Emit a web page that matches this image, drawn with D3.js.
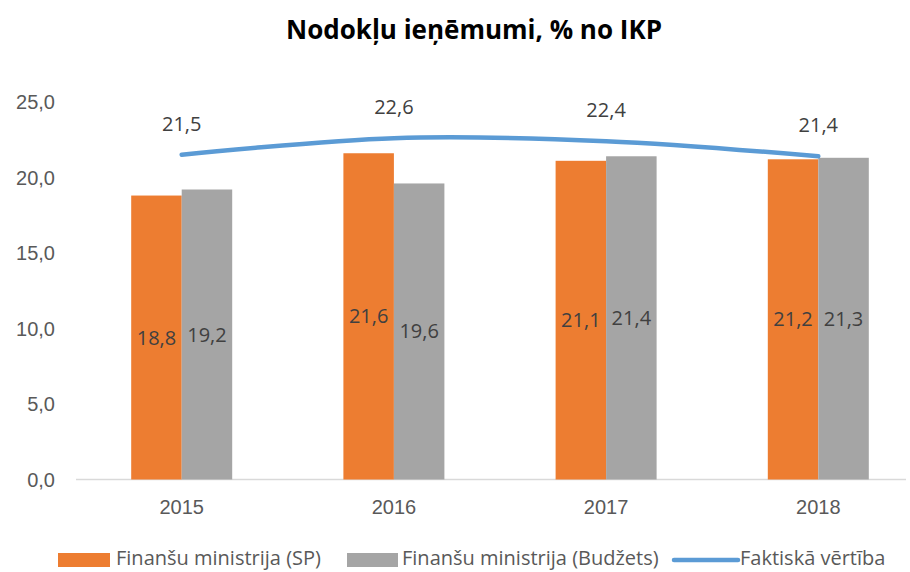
<!DOCTYPE html>
<html>
<head>
<meta charset="UTF-8">
<title>Nodokļu ieņēmumi</title>
<style>
  body { margin: 0; background: #fff; }
  svg { display: block; font-family: "Open Sans", "Noto Sans", sans-serif; }
  .tick text { fill: #595959; font-size: 20px; }
</style>
</head>
<body>
<div id="chart"></div>
<script src="https://d3js.org/d3.v7.min.js"></script>
<script>
const years = ["2015", "2016", "2017", "2018"];
const fmSP = [18.8, 21.6, 21.1, 21.2];
const fmBudget = [19.2, 19.6, 21.4, 21.3];
const actual = [21.5, 22.6, 22.4, 21.4];
const yTicks = [0, 5, 10, 15, 20, 25];
const seriesNames = ["Finanšu ministrija (SP)", "Finanšu ministrija (Budžets)", "Faktiskā vērtība"];

const width = 910, height = 572;
const fmt = d => d.toFixed(1).replace(".", ",");

const svg = d3.select("#chart").append("svg")
  .attr("width", width).attr("height", height);

svg.append("text")
  .attr("x", 474).attr("y", 39)
  .attr("text-anchor", "middle")
  .attr("font-size", 26).attr("font-weight", "bold")
  .attr("fill", "#000")
  .text("Nodokļu ieņēmumi, % no IKP");

const x = d3.scaleBand().domain(years).range([75.6, 924.4]);
const y = d3.scaleLinear().domain([0, 25]).range([479.5, 101.9]);
const barW = 50.5;

// y axis labels only
const yAxis = svg.append("g")
  .attr("transform", "translate(55,0)")
  .call(d3.axisLeft(y).tickValues(yTicks).tickFormat(fmt).tickSize(0).tickPadding(0));
yAxis.select(".domain").remove();
yAxis.selectAll("text").attr("dy", "0.35em");

// x axis
const xAxis = svg.append("g")
  .attr("transform", `translate(0,${y(0)})`)
  .call(d3.axisBottom(x).tickSize(0).tickPadding(20));
xAxis.select(".domain").remove();
svg.append("line")
  .attr("x1", 76).attr("x2", 906)
  .attr("y1", y(0)).attr("y2", y(0))
  .attr("stroke", "#d9d9d9").attr("stroke-width", 1.5);

const cx = d => x(d) + x.bandwidth() / 2;

// bars
svg.append("g").selectAll("rect").data(years).join("rect")
  .attr("x", d => cx(d) - barW).attr("width", barW)
  .attr("y", (d, i) => y(fmSP[i])).attr("height", (d, i) => y(0) - y(fmSP[i]))
  .attr("fill", "#ED7D31");
svg.append("g").selectAll("rect").data(years).join("rect")
  .attr("x", d => cx(d)).attr("width", barW)
  .attr("y", (d, i) => y(fmBudget[i])).attr("height", (d, i) => y(0) - y(fmBudget[i]))
  .attr("fill", "#A5A5A5");

// bar labels
const lab = svg.append("g").attr("font-size", 20).attr("fill", "#404040").attr("text-anchor", "middle");
lab.selectAll(".l1").data(years).join("text")
  .attr("x", d => cx(d) - barW / 2)
  .attr("y", (d, i) => (y(fmSP[i]) + y(0)) / 2).attr("dy", "0.35em")
  .text((d, i) => fmt(fmSP[i]));
lab.selectAll(".l2").data(years).join("text")
  .attr("x", d => cx(d) + barW / 2)
  .attr("y", (d, i) => (y(fmBudget[i]) + y(0)) / 2).attr("dy", "0.35em")
  .text((d, i) => fmt(fmBudget[i]));

// line
const line = d3.line().x(d => cx(d[0])).y(d => y(d[1])).curve(d3.curveCatmullRom.alpha(0.5));
svg.append("path")
  .datum(years.map((d, i) => [d, actual[i]]))
  .attr("d", line)
  .attr("fill", "none").attr("stroke", "#5B9BD5")
  .attr("stroke-width", 4.5).attr("stroke-linecap", "round");
lab.selectAll(".l3").data(years).join("text")
  .attr("x", d => cx(d))
  .attr("y", (d, i) => y(actual[i]) - 31).attr("dy", "0.35em")
  .text((d, i) => fmt(actual[i]));

// legend
const leg = svg.append("g").attr("font-size", 20).attr("fill", "#595959");
leg.append("rect").attr("x", 58).attr("y", 553).attr("width", 52).attr("height", 14).attr("fill", "#ED7D31");
leg.append("text").attr("x", 116).attr("y", 558).attr("dy", "0.35em").text(seriesNames[0]);
leg.append("rect").attr("x", 347).attr("y", 553).attr("width", 51).attr("height", 14).attr("fill", "#A5A5A5");
leg.append("text").attr("x", 402).attr("y", 558).attr("dy", "0.35em").text(seriesNames[1]);
leg.append("line").attr("x1", 674).attr("x2", 738).attr("y1", 560).attr("y2", 560)
  .attr("stroke", "#5B9BD5").attr("stroke-width", 4.5).attr("stroke-linecap", "round");
leg.append("text").attr("x", 740).attr("y", 558).attr("dy", "0.35em").text(seriesNames[2]);
</script>
</body>
</html>
